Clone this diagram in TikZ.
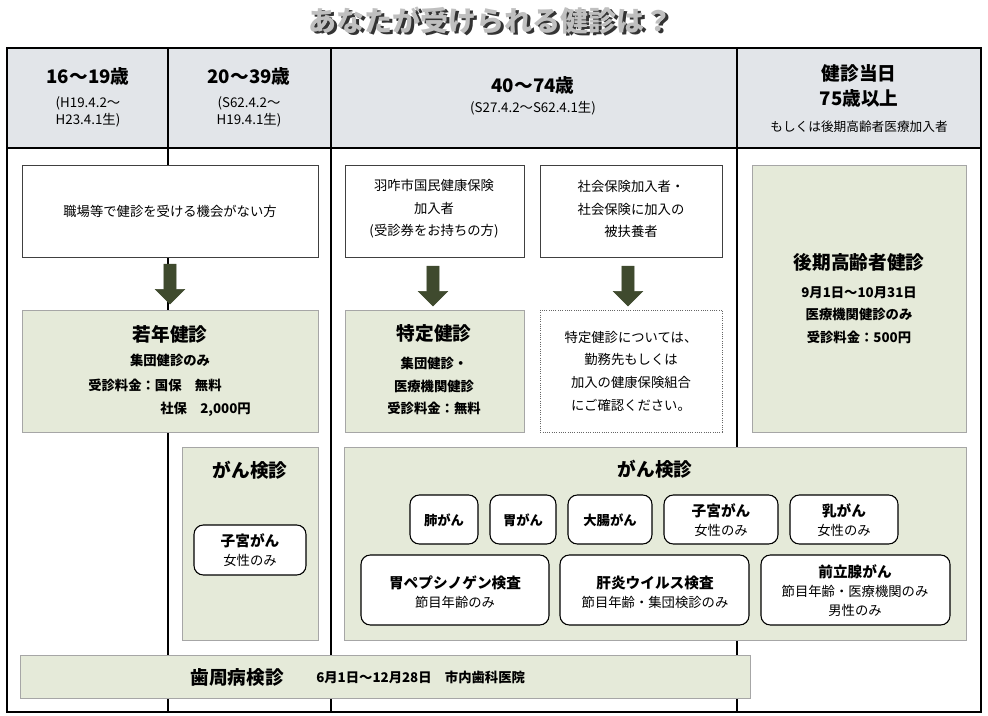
\documentclass[tikz,border=0pt]{standalone}
\usepackage{fontspec}
\setmainfont{Noto Sans CJK JP}
\usetikzlibrary{shapes.arrows}
\definecolor{hdr}{HTML}{E2E5E9}
\definecolor{grn}{HTML}{E5EAD9}
\definecolor{arr}{HTML}{3F4A2E}
\tikzset{
 px/.style={x=0.75pt,y=-0.75pt},
 wbox/.style={draw=black!75,fill=white,line width=0.6pt},
 gbox/.style={draw=black!35,fill=grn,line width=0.6pt},
 rbox/.style={draw=black,fill=white,rounded corners=7pt,line width=0.8pt},
 t/.style={align=center,font=\fontsize{10}{13}\selectfont,inner sep=0pt},
 tb/.style={align=center,font=\fontsize{10}{13}\selectfont\bfseries,inner sep=0pt},
 big/.style={align=center,font=\fontsize{14}{17}\selectfont\bfseries,inner sep=0pt},
 dnarrow/.style={single arrow,shape border rotate=270,fill=arr,draw=arr,minimum height=30pt,minimum width=22pt,single arrow head extend=3pt,inner sep=2pt}
}
\begin{document}
\begin{tikzpicture}[px]
\useasboundingbox (0,0) rectangle (988,716);
\node[font=\fontsize{21}{21}\selectfont\bfseries,text=black!80] (titles) at (493,23) {あなたが受けられる健診は？};
\node[font=\fontsize{21}{21}\selectfont\bfseries,text=black!25] (title) at (490.5,20.5) {あなたが受けられる健診は？};
% frame
\fill[hdr] (7,48) rectangle (981,148);
\draw[line width=0.9pt] (7,48) rectangle (981,712);
\draw[line width=0.9pt] (7,148) -- (981,148);
\foreach \x in {168,331,737} \draw[line width=0.9pt] (\x,48) -- (\x,712);
% header
\node[big] (h1) at (88,76) {16〜19歳};
\node[t] (h1b) at (88,112) {(H19.4.2〜\\H23.4.1生)};
\node[big] (h2) at (249,76) {20〜39歳};
\node[t] (h2b) at (249,112) {(S62.4.2〜\\H19.4.1生)};
\node[big] (h3) at (533,85) {40〜74歳};
\node[t] (h3b) at (533,108) {(S27.4.2〜S62.4.1生)};
\node[big,font=\fontsize{14}{19}\selectfont\bfseries] (h4) at (859,86) {健診当日\\75歳以上};
\node[t,font=\fontsize{9.5}{12}\selectfont] (h4b) at (859,127) {もしくは後期高齢者医療加入者};
% column 1-2
\draw[wbox] (22,165) rectangle (318,257);
\node[t] (b1) at (170,211) {職場等で健診を受ける機会がない方};
\draw[gbox] (22,310) rectangle (318,432);
\node[big] (w1) at (170,334) {若年健診};
\node[tb,anchor=north] (w2) at (170,354) {集団健診のみ};
\node[tb,anchor=west] (w3) at (88,385) {受診料金：国保\quad 無料};
\node[tb,anchor=west] (w4) at (160,409) {社保\quad 2,000円};
\node[dnarrow] (a1) at (170,281) {};
\draw[gbox] (182,447) rectangle (318,640);
\node[big] (g1) at (250,470) {がん検診};
\draw[rbox] (194,525) rectangle (306,575);
\node[tb,font=\fontsize{11}{13}\selectfont\bfseries] (s1) at (250,541) {子宮がん};
\node[t] (s1b) at (250,560) {女性のみ};
% column 3
\draw[wbox] (345,165) rectangle (524,257);
\node[t,font=\fontsize{10}{17}\selectfont] (b2) at (434,209) {羽咋市国民健康保険\\加入者\\(受診券をお持ちの方)};
\draw[wbox] (540,165) rectangle (722,257);
\node[t,font=\fontsize{10}{17}\selectfont] (b3) at (631,209) {社会保険加入者・\\社会保険に加入の\\被扶養者};
\node[dnarrow] (a2) at (433,283) {};
\node[dnarrow] (a3) at (628,283) {};
\draw[gbox] (345,310) rectangle (524,432);
\node[big] (k1) at (434,333) {特定健診};
\node[tb,font=\fontsize{10}{17}\selectfont\bfseries] (k2) at (434,386) {集団健診・\\医療機関健診\\受診料金：無料};
\draw[draw=black!60,densely dotted,fill=white,line width=0.7pt] (540,310) rectangle (722,432);
\node[t,font=\fontsize{10}{17}\selectfont] (k3) at (631,371) {特定健診については、\\勤務先もしくは\\加入の健康保険組合\\にご確認ください。};
% column 4
\draw[gbox] (752,165) rectangle (966,432);
\node[big] (o1) at (859,262) {後期高齢者健診};
\node[tb,font=\fontsize{10}{17}\selectfont\bfseries] (o2) at (859,315) {9月1日〜10月31日\\医療機関健診のみ\\受診料金：500円};
% big cancer
\draw[gbox] (344,447) rectangle (966,640);
\node[big] (g2) at (655,469) {がん検診};
\draw[rbox] (410,495) rectangle (478,544); \node[tb] (c1) at (444,520) {肺がん};
\draw[rbox] (490,495) rectangle (556,544); \node[tb] (c2) at (523,520) {胃がん};
\draw[rbox] (568,495) rectangle (652,544); \node[tb] (c3) at (610,520) {大腸がん};
\draw[rbox] (664,495) rectangle (778,544); \node[tb,font=\fontsize{11}{13}\selectfont\bfseries] (c4) at (721,511) {子宮がん}; \node[t] (c4b) at (721,530) {女性のみ};
\draw[rbox] (790,495) rectangle (898,544); \node[tb,font=\fontsize{11}{13}\selectfont\bfseries] (c5) at (844,511) {乳がん}; \node[t] (c5b) at (844,530) {女性のみ};
\draw[rbox] (361,555) rectangle (549,625); \node[tb,font=\fontsize{11}{13}\selectfont\bfseries] (d1) at (455,583) {胃ペプシノゲン検査}; \node[t] (d1b) at (455,602) {節目年齢のみ};
\draw[rbox] (560,555) rectangle (749,625); \node[tb,font=\fontsize{11}{13}\selectfont\bfseries] (d2) at (655,583) {肝炎ウイルス検査}; \node[t] (d2b) at (655,602) {節目年齢・集団検診のみ};
\draw[rbox] (761,555) rectangle (950,625); \node[tb,font=\fontsize{11}{13}\selectfont\bfseries] (d3) at (855,572) {前立腺がん}; \node[t,font=\fontsize{10}{14}\selectfont] (d3b) at (855,601) {節目年齢・医療機関のみ\\男性のみ};
% dental
\draw[gbox] (20,655) rectangle (750,698);
\node[big] (p1) at (237,677) {歯周病検診};
\node[tb,anchor=west] (p2) at (316,677) {6月1日〜12月28日\quad 市内歯科医院};
\end{tikzpicture}
\end{document}
